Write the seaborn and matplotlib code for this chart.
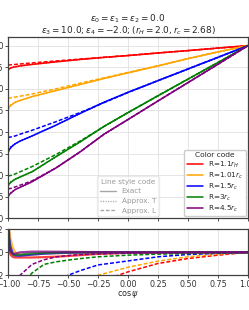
import numpy as np
import pandas as pd
import matplotlib
matplotlib.use("Agg")
import matplotlib.pyplot as plt
from matplotlib.lines import Line2D
import seaborn as sns

# === data ===
cos_main = [-1.0, -0.99, -0.97, -0.94, -0.9, -0.8, -0.6, -0.4, -0.2, 0.0, 0.25, 0.5, 0.75, 1.0]

red_exact    = [0.42, 0.46, 0.49, 0.51, 0.53, 0.565, 0.625, 0.68, 0.728, 0.77, 0.83, 0.885, 0.943, 1.0]
orange_exact = [-0.50, -0.42, -0.37, -0.31, -0.27, -0.18, -0.04, 0.10, 0.24, 0.37, 0.53, 0.70, 0.855, 1.0]
blue_exact   = [-1.49, -1.41, -1.34, -1.27, -1.21, -1.09, -0.84, -0.57, -0.31, -0.08, 0.19, 0.46, 0.73, 1.0]
green_exact  = [-2.26, -2.20, -2.15, -2.09, -2.04, -1.92, -1.57, -1.23, -0.87, -0.55, -0.16, 0.225, 0.61, 1.0]
purple_exact = [-2.51, -2.45, -2.40, -2.33, -2.28, -2.15, -1.83, -1.46, -1.05, -0.71, -0.28, 0.145, 0.57, 1.0]

red_T    = [0.45, 0.47, 0.495, 0.513, 0.532, 0.566, 0.625, 0.68, 0.728, 0.77, 0.83, 0.885, 0.943, 1.0]
orange_T = [-0.42, -0.39, -0.36, -0.31, -0.27, -0.18, -0.04, 0.10, 0.24, 0.37, 0.53, 0.70, 0.855, 1.0]
blue_T   = [-1.40, -1.37, -1.33, -1.27, -1.21, -1.09, -0.84, -0.57, -0.31, -0.08, 0.19, 0.46, 0.73, 1.0]
green_T  = [-2.18, -2.16, -2.14, -2.09, -2.04, -1.92, -1.57, -1.23, -0.87, -0.55, -0.16, 0.225, 0.61, 1.0]
purple_T = [-2.44, -2.42, -2.39, -2.33, -2.28, -2.15, -1.83, -1.46, -1.05, -0.71, -0.28, 0.145, 0.57, 1.0]

red_L    = [0.55, 0.553, 0.558, 0.565, 0.575, 0.60, 0.645, 0.688, 0.73, 0.772, 0.83, 0.885, 0.943, 1.0]
orange_L = [-0.22, -0.215, -0.205, -0.19, -0.17, -0.12, 0.0, 0.13, 0.255, 0.38, 0.535, 0.70, 0.855, 1.0]
blue_L   = [-1.13, -1.12, -1.11, -1.09, -1.05, -0.96, -0.76, -0.55, -0.32, -0.085, 0.19, 0.46, 0.73, 1.0]
green_L  = [-2.02, -2.01, -2.0, -1.97, -1.92, -1.80, -1.52, -1.21, -0.87, -0.55, -0.16, 0.225, 0.61, 1.0]
purple_L = [-2.32, -2.31, -2.30, -2.27, -2.23, -2.13, -1.83, -1.46, -1.05, -0.71, -0.28, 0.145, 0.57, 1.0]

# residuals (lower panel)
cos_res = [-1.0, -0.99, -0.98, -0.96, -0.94, -0.9, -0.8, -0.7, -0.6, -0.5, -0.4, -0.25, 0.0, 0.25, 0.5, 0.75, 1.0]

red_resT    = [0.40, 0.05, -0.02, -0.04, -0.045, -0.045, -0.045, -0.042, -0.038, -0.032, -0.025, -0.014, -0.005, -0.002, 0.0, 0.0, 0.0]
orange_resT = [0.60, 0.20, 0.12, 0.04, 0.0, -0.025, -0.02, -0.012, -0.008, -0.005, -0.003, -0.001, 0.0, 0.0, 0.0, 0.0, 0.0]
blue_resT   = [0.50, 0.12, 0.05, -0.01, -0.028, -0.03, -0.02, -0.012, -0.007, -0.004, -0.002, 0.0, 0.0, 0.0, 0.0, 0.0, 0.0]
green_resT  = [0.40, 0.08, 0.02, -0.02, -0.025, -0.02, -0.01, -0.005, -0.002, 0.0, 0.0, 0.0, 0.0, 0.0, 0.0, 0.0, 0.0]
purple_resT = [0.35, 0.06, 0.01, -0.015, -0.012, 0.0, 0.006, 0.006, 0.005, 0.004, 0.003, 0.002, 0.001, 0.0, 0.0, 0.0, 0.0]

red_resL    = [-1.5, -1.45, -1.4, -1.3, -1.2, -1.05, -0.8, -0.65, -0.54, -0.45, -0.36, -0.26, -0.17, -0.097, -0.054, -0.025, 0.0]
orange_resL = [-1.2, -1.15, -1.1, -1.0, -0.92, -0.8, -0.62, -0.5, -0.4, -0.33, -0.27, -0.2, -0.13, -0.077, -0.039, -0.016, 0.0]
blue_resL   = [-0.9, -0.85, -0.8, -0.72, -0.65, -0.55, -0.42, -0.33, -0.26, -0.2, -0.16, -0.11, -0.075, -0.039, -0.019, -0.009, 0.0]
green_resL  = [-0.7, -0.6, -0.55, -0.45, -0.38, -0.3, -0.18, -0.105, -0.083, -0.068, -0.055, -0.039, -0.025, -0.016, -0.01, -0.005, 0.0]
purple_resL = [-0.5, -0.45, -0.42, -0.36, -0.3, -0.2, -0.105, -0.065, -0.04, -0.028, -0.02, -0.014, -0.007, -0.003, -0.001, 0.0, 0.0]

labels = ["R=1.1$r_H$", "R=1.01$r_c$", "R=1.5$r_c$", "R=3$r_c$", "R=4.5$r_c$"]
colors = ["red", "orange", "blue", "green", "purple"]

exact = [red_exact, orange_exact, blue_exact, green_exact, purple_exact]
approx_T = [red_T, orange_T, blue_T, green_T, purple_T]
approx_L = [red_L, orange_L, blue_L, green_L, purple_L]
res_T = [red_resT, orange_resT, blue_resT, green_resT, purple_resT]
res_L = [red_resL, orange_resL, blue_resL, green_resL, purple_resL]

# === style ===
sns.set_theme(style="whitegrid", rc={
    "axes.edgecolor": "0.25",
    "axes.linewidth": 0.9,
    "grid.color": "0.88",
    "grid.linewidth": 0.6,
    "xtick.bottom": True,
    "ytick.left": True,
    "xtick.major.size": 2,
    "ytick.major.size": 2,
    "xtick.major.width": 0.6,
    "ytick.major.width": 0.6,
    "xtick.major.pad": 1.2,
    "ytick.major.pad": 1.2,
    "xtick.color": "0.2",
    "ytick.color": "0.2",
    "font.size": 5.8,
    "xtick.labelsize": 5.8,
    "ytick.labelsize": 5.8,
    "axes.labelsize": 5.8,
})
plt.rcParams["font.family"] = ["DejaVu Sans"]

fig = plt.figure(figsize=(2.49, 3.10), dpi=100)
ax = fig.add_axes([0.0321, 0.2952, 0.9639, 0.5855])
axr = fig.add_axes([0.0321, 0.1119, 0.9639, 0.1484])

dash = (0, (2.6, 1.3))
dot = (0, (0.8, 1.0))

for i in range(5):
    sns.lineplot(x=cos_main, y=exact[i], color=colors[i], linewidth=1.1, ax=ax, legend=False)
    sns.lineplot(x=cos_main, y=approx_T[i], color=colors[i], linewidth=1.1, linestyle=dot, ax=ax, legend=False)
    sns.lineplot(x=cos_main, y=approx_L[i], color=colors[i], linewidth=1.1, linestyle=dash, ax=ax, legend=False)

for i in range(5):
    sns.lineplot(x=cos_res, y=res_T[i], color=colors[i], linewidth=1.6, alpha=0.75, ax=axr, legend=False)
    sns.lineplot(x=cos_res, y=res_L[i], color=colors[i], linewidth=1.1, linestyle=dash, ax=axr, legend=False)

ax.set_xlim(-1, 1)
ax.set_ylim(-3.0, 1.2)
ax.set_yticks(np.arange(-3.0, 1.01, 0.5))
ax.set_xticks(np.arange(-1, 1.01, 0.25))
ax.set_xticklabels([])
ax.set_xlabel("")

axr.set_xlim(-1, 1)
axr.set_ylim(-0.2, 0.2)
axr.set_yticks([-0.2, 0.0, 0.2])
axr.set_xticks(np.arange(-1, 1.01, 0.25))
axr.set_xlabel(r"$\cos\psi$", labelpad=0.3)

ax.set_title("$\\epsilon_0=\\epsilon_1=\\epsilon_2=0.0$\n"
             "$\\epsilon_3=10.0; \\epsilon_4=-2.0; (r_H=2.0, r_c=2.68)$",
             fontsize=6.4, pad=2.5, linespacing=0.95)

# legends
color_handles = [Line2D([0], [0], color=c, lw=1.1) for c in colors]
leg1 = ax.legend(color_handles, labels, title="Color code", loc="lower right",
                 fontsize=5.2, title_fontsize=5.4, frameon=True, framealpha=1,
                 edgecolor="0.8", handlelength=2.2, borderaxespad=0.3,
                 labelspacing=0.12, borderpad=0.35)
ax.add_artist(leg1)

style_handles = [Line2D([0], [0], color="gray", lw=1.0, linestyle=ls, alpha=0.7)
                 for ls in ["-", dot, dash]]
leg2 = ax.legend(style_handles, ["Exact", "Approx. T", "Approx. L"],
                 title="Line style code", loc="lower center", fontsize=5.2,
                 title_fontsize=5.2, frameon=True, framealpha=0.5,
                 edgecolor="0.85", handlelength=2.2, borderaxespad=0.3,
                 labelspacing=0.5, borderpad=0.35, labelcolor="0.6")
leg2.get_title().set_color("0.6")

fig.savefig("out.png", dpi=100)
